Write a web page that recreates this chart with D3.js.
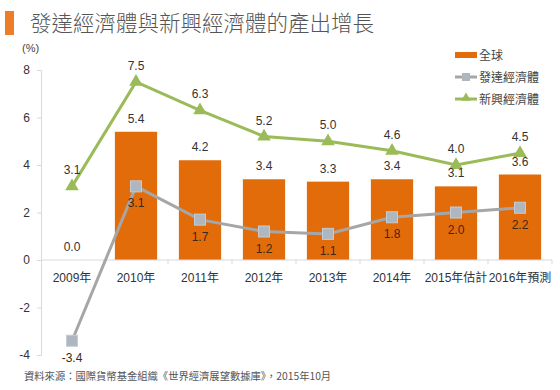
<!DOCTYPE html>
<html><head><meta charset="utf-8">
<script src="https://cdn.jsdelivr.net/npm/d3@7/dist/d3.min.js"></script>
<style>
body{margin:0;background:#fff;}
svg{display:block;font-family:"Liberation Sans",Arial,"Noto Sans CJK TC",sans-serif;}
</style></head>
<body><svg id="c" width="560" height="390"></svg>
<script>
const categories = ["2009年","2010年","2011年","2012年","2013年","2014年","2015年估計","2016年預測"];
const world = [0.0,5.4,4.2,3.4,3.3,3.4,3.1,3.6];
const advanced = [-3.4,3.1,1.7,1.2,1.1,1.8,2.0,2.2];
const emerging = [3.1,7.5,6.3,5.2,5.0,4.6,4.0,4.5];
const yTicks = [-4,-2,0,2,4,6,8];
const seriesNames = ["全球","發達經濟體","新興經濟體"];
const title = "發達經濟體與新興經濟體的產出增長";
const source = "資料來源：國際貨幣基金組織《世界經濟展望數據庫》，2015年10月";

const svg = d3.select("#c");
const cjk = '"Noto Sans CJK TC","Noto Sans CJK SC",sans-serif';
const orange = "#e36c0a", gray = "#a6a6a6", grayMk = "#aeb7c0", green = "#9bbb59";

// title
svg.append("rect").attr("x",5).attr("y",11).attr("width",9).attr("height",24).attr("fill","#ee7d2a");
svg.append("text").attr("x",30).attr("y",31).attr("font-family",cjk).attr("font-size",21.5)
  .attr("font-weight",300).attr("fill","#555").text(title);

const x = d3.scaleBand().domain(categories).range([40,552]).paddingInner(0.34).paddingOuter(0.17);
const y = d3.scaleLinear().domain([-4,8]).range([355,70]);

// y axis
const ya = svg.append("g").attr("transform","translate(41,0)")
  .call(d3.axisLeft(y).tickValues(yTicks).tickSize(4).tickPadding(7).tickFormat(d=>String(d)));
ya.select(".domain").attr("stroke","#d9d9d9");
ya.selectAll(".tick line").attr("stroke","#d9d9d9");
ya.selectAll("text").attr("font-size",12).attr("fill","#333").attr("font-family","Liberation Sans,Arial,sans-serif");
svg.append("text").attr("x",22).attr("y",52).attr("font-size",11).attr("fill","#444").text("(%)");

// bars
svg.append("g").selectAll("rect").data(world).join("rect")
  .attr("x",(d,i)=>x(categories[i])).attr("width",x.bandwidth())
  .attr("y",d=>y(Math.max(0,d))).attr("height",d=>Math.abs(y(d)-y(0)))
  .attr("fill",orange);

// x axis at zero
svg.append("line").attr("x1",41).attr("x2",552).attr("y1",y(0)).attr("y2",y(0)).attr("stroke","#d9d9d9");
const bounds = d3.range(categories.length+1).map(i=>40+i*x.step());
svg.append("g").selectAll("line").data(bounds.slice(1)).join("line")
  .attr("x1",d=>d).attr("x2",d=>d).attr("y1",y(0)).attr("y2",y(0)+4).attr("stroke","#d9d9d9");
svg.append("g").selectAll("text").data(categories).join("text")
  .attr("x",d=>x(d)+x.bandwidth()/2).attr("y",y(0)+22).attr("text-anchor","middle")
  .attr("font-size",12).attr("fill","#333").attr("font-family",'"Liberation Sans",Arial,"Noto Sans CJK TC",sans-serif').text(d=>d);

const cx = i => x(categories[i]) + x.bandwidth()/2;

// advanced line
svg.append("path").datum(advanced).attr("fill","none").attr("stroke",gray).attr("stroke-width",3)
  .attr("d",d3.line().x((d,i)=>cx(i)).y(d=>y(d)));
svg.append("g").selectAll("rect").data(advanced).join("rect")
  .attr("x",(d,i)=>cx(i)-5.5).attr("y",d=>y(d)-5.5).attr("width",11).attr("height",11)
  .attr("fill",grayMk).attr("stroke","#c4cbd2").attr("stroke-width",1);

// emerging line
svg.append("path").datum(emerging).attr("fill","none").attr("stroke",green).attr("stroke-width",3)
  .attr("d",d3.line().x((d,i)=>cx(i)).y(d=>y(d)));
const tri = d3.symbol().type(d3.symbolTriangle).size(80);
svg.append("g").selectAll("path").data(emerging).join("path")
  .attr("transform",(d,i)=>`translate(${cx(i)},${y(d)})`).attr("d",tri).attr("fill",green);

// labels
function addLabels(data, dy, fill){
  svg.append("g").selectAll("text").data(data).join("text")
    .attr("x",(d,i)=>cx(i)).attr("y",d=>y(d)+dy).attr("text-anchor","middle")
    .attr("font-size",12).attr("fill",fill).attr("font-family","Liberation Sans,Arial,sans-serif")
    .text(d=>d.toFixed(1));
}
addLabels(world,-9,"#333");
addLabels(advanced,21,"#3a2a1a");
addLabels(emerging,-12,"#333");

// legend
const lg = svg.append("g").attr("font-family",cjk).attr("font-size",12).attr("fill","#444");
lg.append("rect").attr("x",455).attr("y",52).attr("width",22).attr("height",6).attr("fill",orange);
lg.append("text").attr("x",479).attr("y",59.5).text(seriesNames[0]);
lg.append("line").attr("x1",455).attr("x2",477).attr("y1",77).attr("y2",77).attr("stroke",gray).attr("stroke-width",3);
lg.append("rect").attr("x",462).attr("y",73).attr("width",8).attr("height",8).attr("fill",grayMk);
lg.append("text").attr("x",479).attr("y",81.5).text(seriesNames[1]);
lg.append("line").attr("x1",455).attr("x2",477).attr("y1",99).attr("y2",99).attr("stroke",green).attr("stroke-width",3);
lg.append("path").attr("transform","translate(466,98)").attr("d",d3.symbol().type(d3.symbolTriangle).size(40)).attr("fill",green);
lg.append("text").attr("x",479).attr("y",103.5).text(seriesNames[2]);

// source
svg.append("text").attr("x",24).attr("y",380).attr("font-family",cjk).attr("font-size",10.3)
  .attr("fill","#555").text(source);
</script></body></html>
